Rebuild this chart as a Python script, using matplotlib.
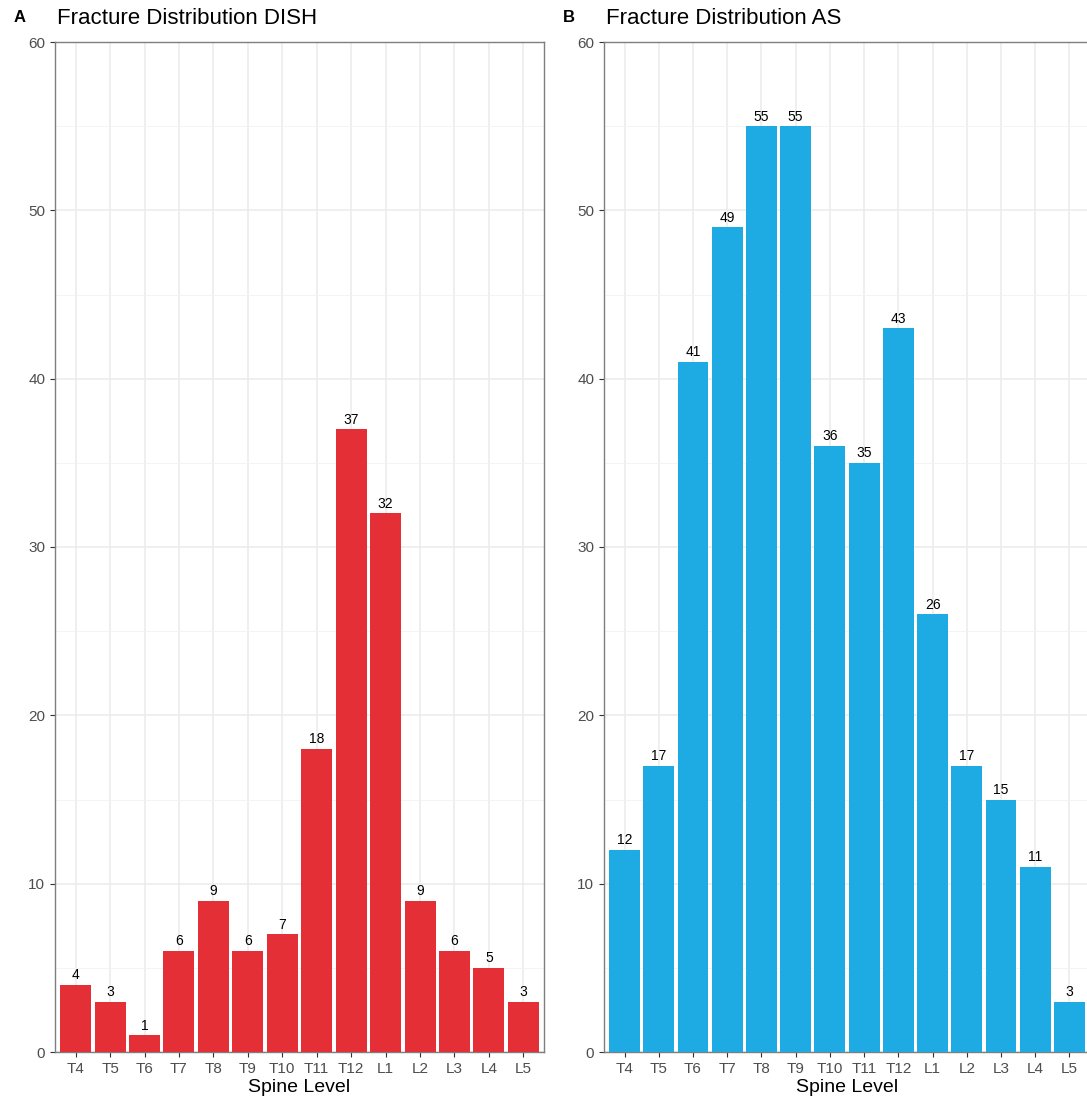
import matplotlib.pyplot as plt
import numpy as np

levels = ['T4', 'T5', 'T6', 'T7', 'T8', 'T9', 'T10', 'T11', 'T12', 'L1', 'L2', 'L3', 'L4', 'L5']
dish_counts = [4, 3, 1, 6, 9, 6, 7, 18, 37, 32, 9, 6, 5, 3]
as_counts = [12, 17, 41, 49, 55, 55, 36, 35, 43, 26, 17, 15, 11, 3]

plt.rcParams['font.family'] = ['Liberation Sans', 'DejaVu Sans']

W, H = 1087, 1096
fig = plt.figure(figsize=(W / 100, H / 100), dpi=100)

panels = [
    ('A', 'Fracture Distribution DISH', dish_counts, '#E32F35', 55, 544),
    ('B', 'Fracture Distribution AS', as_counts, '#1EAAE2', 604, 1090),
]

top, bottom = 42, 1052
for tag, title, counts, color, x0, x1 in panels:
    ax = fig.add_axes([x0 / W, 1 - bottom / H, (x1 - x0) / W, (bottom - top) / H])
    x = np.arange(len(levels))
    bars = ax.bar(x, counts, width=0.9, color=color, zorder=3)
    for b, v in zip(bars, counts):
        ax.text(b.get_x() + b.get_width() / 2, v + 0.15, str(v),
                ha='center', va='bottom', fontsize=10, color='black', zorder=4)

    ax.set_xlim(-0.6, len(levels) - 0.4)
    ax.set_ylim(0, 60)
    ax.set_xticks(x)
    ax.set_xticklabels(levels)
    ax.set_yticks(np.arange(0, 61, 10))
    ax.set_yticks(np.arange(5, 60, 10), minor=True)
    ax.tick_params(axis='both', which='major', labelsize=11, labelcolor='#4D4D4D',
                   color='#333333', length=3.5, width=0.8)
    ax.tick_params(axis='y', which='minor', length=0)
    ax.grid(which='major', color='#EBEBEB', linewidth=1.1, zorder=0)
    ax.grid(which='minor', axis='y', color='#F2F2F2', linewidth=0.6, zorder=0)
    for s in ax.spines.values():
        s.set_color('#7F7F7F')
        s.set_linewidth(1.0)
    ax.set_xlabel('Spine Level', fontsize=14, labelpad=2)

    fig.text((x0 + 2) / W, 1 - 18 / H, title, fontsize=16, ha='left', va='center')
    fig.text((x0 - 41) / W, 1 - 18 / H, tag, fontsize=12, fontweight='bold',
             ha='left', va='center')

fig.savefig('out.png', dpi=100)
